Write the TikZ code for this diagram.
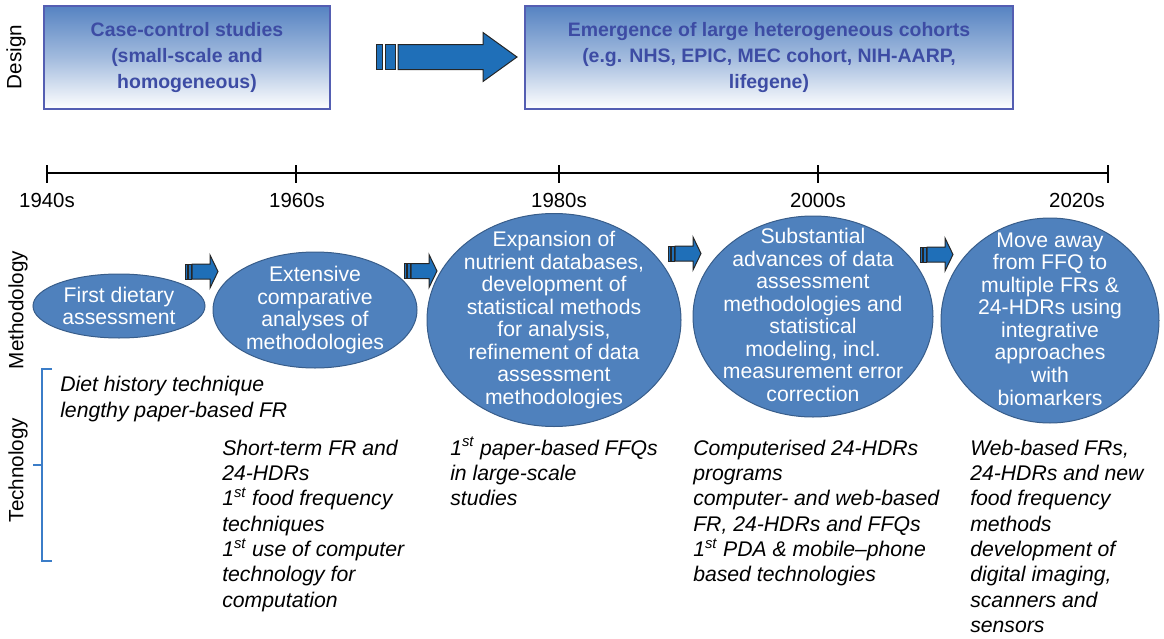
\documentclass[tikz,border=0pt]{standalone}
\usepackage{fontspec}
\setmainfont{Liberation Sans}
\usetikzlibrary{shapes.geometric}

\definecolor{ellfill}{RGB}{79,129,189}
\definecolor{elldraw}{RGB}{56,93,138}
\definecolor{arrfill}{RGB}{31,111,184}
\definecolor{dsgtop}{RGB}{86,131,194}
\definecolor{dsgdraw}{RGB}{84,94,178}
\definecolor{dsgtext}{RGB}{61,76,164}
\definecolor{brk}{RGB}{59,125,200}

\tikzset{
  methodel/.style={ellipse, draw=elldraw, fill=ellfill, line width=0.75pt, inner sep=0pt},
  methtext/.style={text=white, align=center, inner sep=0pt, font=\fontsize{15.9}{16.9}\selectfont},
  designbox/.style={rectangle, draw=dsgdraw, line width=0.8pt, top color=dsgtop, bottom color=white, middle color=dsgtop!55!white, text=dsgtext, align=center, inner sep=0pt, font=\bfseries\fontsize{14.6}{19.5}\selectfont},
  techtext/.style={anchor=north west, align=left, inner sep=0pt, font=\itshape\fontsize{15.9}{19}\selectfont},
  yearlbl/.style={anchor=base, inner sep=0pt, font=\fontsize{15.3}{18}\selectfont},
  sidelbl/.style={rotate=90, inner sep=0pt, font=\fontsize{15.5}{18}\selectfont},
  blockarr/.style={draw=black!85, fill=arrfill, line width=0.75pt},
}

\newcommand{\tstrut}{\rule{0pt}{15pt}}
% small striped arrow between two ellipses
\newcommand{\methodarrow}[2]{%
  \begin{scope}[shift={(#1,#2)}]
    \draw[blockarr] (0,-7.5) rectangle (2.5,7.5);
    \draw[blockarr] (3.5,-7.5) rectangle (6,7.5);
    \draw[blockarr] (7,-7.5) -- (25,-7.5) -- (25,-16.5) -- (33,0) -- (25,16.5) -- (25,7.5) -- (7,7.5) -- cycle;
  \end{scope}}

\begin{document}
\begin{tikzpicture}[x=0.75pt,y=0.75pt,yscale=-1,xscale=1]
\useasboundingbox (0,0) rectangle (1164,639);

% Text Node
\node[sidelbl] (design) at (16,57) {Design};
\node[sidelbl] (method) at (18,310) {Methodology};
\node[sidelbl] (techno) at (18,470) {Technology};

%Shape: Rectangle
\node[designbox, minimum width=214.5pt, minimum height=77.25pt] (casectrl) at (187,57.5) {Case-control studies\\(small-scale and\\homogeneous)};
%Shape: Rectangle
\node[designbox, minimum width=366pt, minimum height=77.25pt] (cohorts) at (769,57.5) {Emergence of large heterogeneous cohorts\\(e.g. NHS, EPIC, MEC cohort, NIH-AARP,\\lifegene)};

%Shape: Right Arrow
\begin{scope}[shift={(376,57)}]
  \draw[blockarr] (0,-12.5) rectangle (6,12.5);
  \draw[blockarr] (9,-12.5) rectangle (19,12.5);
  \draw[blockarr] (22,-12.5) -- (107,-12.5) -- (107,-24.5) -- (141,0) -- (107,24.5) -- (107,12.5) -- (22,12.5) -- cycle;
\end{scope}

%Straight Lines
\coordinate (t40) at (46.7,172.7);
\coordinate (t60) at (296,172.7);
\coordinate (t80) at (559,172.7);
\coordinate (t00) at (818,172.7);
\coordinate (t20) at (1108,172.7);
\draw[line width=1.5pt] (t40) -- (t20);
\foreach \t in {t40,t60,t80,t00,t20}
  \draw[line width=1.5pt] ([yshift=-7.7*0.75pt]\t) -- ([yshift=10*0.75pt]\t);

% Text Node
\node[yearlbl] (y40) at (47,207) {1940s};
\node[yearlbl] (y60) at (297,207) {1960s};
\node[yearlbl] (y80) at (559,207) {1980s};
\node[yearlbl] (y00) at (818,207) {2000s};
\node[yearlbl, anchor=base east] (y20) at (1105,207) {2020s};

%Shape: Ellipse
\node[methodel, minimum width=129pt, minimum height=48pt] (m1) at (119,306) {};
\node[methtext] (m1txt) at (m1) {First dietary\\assessment};
\node[methodel, minimum width=153pt, minimum height=87pt] (m2) at (315,310) {};
\node[methtext] (m2txt) at (m2) {Extensive\\comparative\\analyses of\\methodologies};
\node[methodel, minimum width=190.5pt, minimum height=159.75pt] (m3) at (554,320) {};
\node[methtext] (m3txt) at (m3) {Expansion of\\nutrient databases,\\development of\\statistical methods\\for analysis,\\refinement of data\\assessment\\methodologies};
\node[methodel, minimum width=180pt, minimum height=150.75pt] (m4) at (813,316.5) {};
\node[methtext] (m4txt) at (813,315) {Substantial\\advances of data\\assessment\\methodologies and\\statistical\\modeling, incl.\\measurement error\\correction};
\node[methodel, minimum width=163.5pt, minimum height=153.75pt] (m5) at (1050,320.5) {};
\node[methtext] (m5txt) at (1050,319) {Move away\\from FFQ to\\multiple FRs \&\\24-HDRs using\\integrative\\approaches\\with\\biomarkers};

%Shape: Right Arrow
\methodarrow{185}{271.5}
\methodarrow{404}{271}
\methodarrow{668}{253.5}
\methodarrow{920}{254.5}

%Shape: Bracket
\draw[brk, line width=0.9pt] (52,369) -- (42,369) -- (42,561) -- (52,561);
\draw[brk, line width=0.9pt] (42,465) -- (33,465);

% Text Node
\node[techtext] (tech40) at (60,371.5) {\tstrut Diet history technique\\lengthy paper-based FR};
\node[techtext] (tech60) at (222,435) {\tstrut Short-term FR and\\24-HDRs\\1\textsuperscript{st} food frequency\\techniques\\1\textsuperscript{st} use of computer\\technology for\\computation};
\node[techtext] (tech80) at (450,435) {\tstrut 1\textsuperscript{st} paper-based FFQs\\in large-scale\\studies};
\node[techtext] (tech00) at (693,435) {\tstrut Computerised 24-HDRs\\programs\\computer- and web-based\\FR, 24-HDRs and FFQs\\1\textsuperscript{st} PDA \& mobile--phone\\based technologies};
\node[techtext] (tech20) at (970,435) {\tstrut Web-based FRs,\\24-HDRs and new\\food frequency\\methods\\development of\\digital imaging,\\scanners and\\sensors};

\end{tikzpicture}
\end{document}
